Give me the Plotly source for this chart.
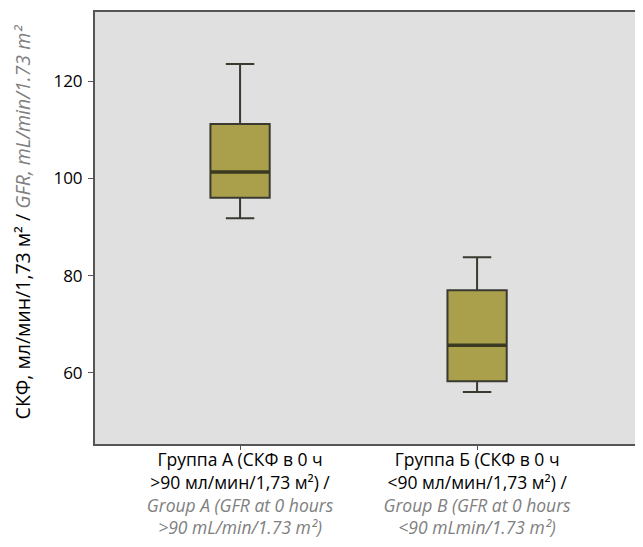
import plotly.graph_objects as go

groups = ["Группа А", "Группа Б"]
positions = [0, 1]
lower_whisker = [91.8, 56.1]
q1 = [96.0, 58.3]
median = [101.3, 65.7]
q3 = [111.2, 77.0]
upper_whisker = [123.5, 83.8]
tick_vals_y = [60, 80, 100, 120]
tick_labels_x = [
    "Группа А (СКФ в 0 ч<br>&gt;90 мл/мин/1,73 м²) /<br>"
    "<span style='color:#808080'><i>Group A (GFR at 0 hours</i></span><br>"
    "<span style='color:#808080'><i>&gt;90 mL/min/1.73 m²)</i></span>",
    "Группа Б (СКФ в 0 ч<br>&lt;90 мл/мин/1,73 м²) /<br>"
    "<span style='color:#808080'><i>Group B (GFR at 0 hours</i></span><br>"
    "<span style='color:#808080'><i>&lt;90 mLmin/1.73 m²)</i></span>",
]
y_title = ("СКФ, мл/мин/1,73 м² / "
           "<span style='color:#808080'><i>GFR, mL/min/1.73 m²</i></span>")

box_width = 0.25
fig = go.Figure()
fig.add_trace(go.Box(
    x=positions, q1=q1, median=median, q3=q3,
    lowerfence=lower_whisker, upperfence=upper_whisker,
    width=box_width, whiskerwidth=0.48,
    fillcolor="#aaa04c", line=dict(color="#3a3a30", width=2),
    boxpoints=False, showlegend=False, hoverinfo="skip",
))
for p, m in zip(positions, median):
    fig.add_trace(go.Scatter(
        x=[p - box_width / 2, p + box_width / 2], y=[m, m], mode="lines",
        line=dict(color="#3a3a20", width=3.5), showlegend=False, hoverinfo="skip",
    ))

# page body adds an 8px margin; figure offset accordingly
fig.update_layout(
    width=635, height=539,
    margin=dict(l=87, r=0, t=4, b=103),
    paper_bgcolor="white", plot_bgcolor="#e0e0e0",
    font=dict(family="Open Sans", size=16, color="black"),
    annotations=[dict(
        text=y_title, textangle=-90, xref="paper", yref="paper",
        x=-73 / 548, y=0.513, xanchor="center", yanchor="middle",
        showarrow=False, font=dict(size=19.5),
    )],
)
fig.update_xaxes(
    range=[-0.612, 1.70], tickvals=positions, ticktext=tick_labels_x,
    showgrid=False, zeroline=False, showline=True, linecolor="#555555", linewidth=2,
    mirror=True, ticks="outside", ticklen=4, tickcolor="#555555",
    tickfont=dict(size=17.5), automargin=False, ticklabelstandoff=-5,
)
fig.update_yaxes(
    range=[45.4, 134.2], tickvals=tick_vals_y,
    showgrid=False, zeroline=False, showline=True, linecolor="#555555", linewidth=2,
    ticks="outside", ticklen=5, tickcolor="#555555",
    tickfont=dict(size=17), automargin=False, ticklabelstandoff=2,
)
fig.write_html("out.html")
